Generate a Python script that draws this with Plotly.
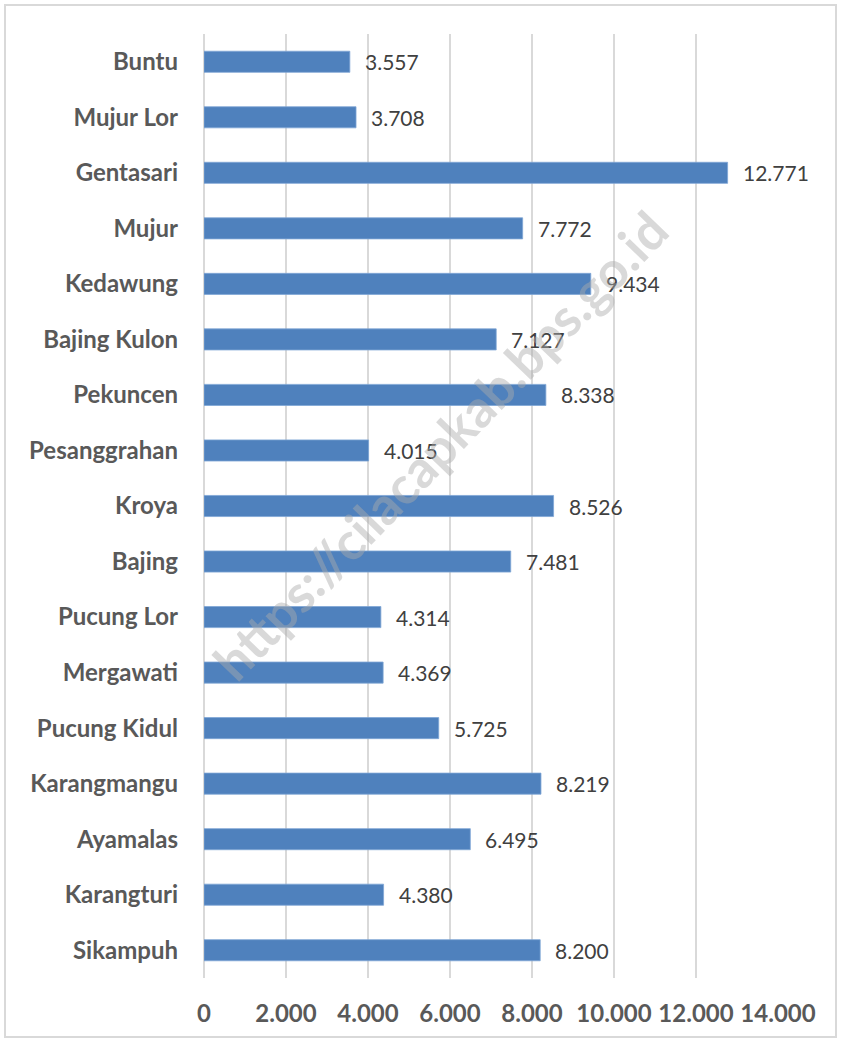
import plotly.graph_objects as go

villages = ["Buntu", "Mujur Lor", "Gentasari", "Mujur", "Kedawung", "Bajing Kulon",
            "Pekuncen", "Pesanggrahan", "Kroya", "Bajing", "Pucung Lor", "Mergawati",
            "Pucung Kidul", "Karangmangu", "Ayamalas", "Karangturi", "Sikampuh"]
population = [3557, 3708, 12771, 7772, 9434, 7127, 8338, 4015, 8526, 7481,
              4314, 4369, 5725, 8219, 6495, 4380, 8200]
x_ticks = [0, 2000, 4000, 6000, 8000, 10000, 12000, 14000]

W, H = 841, 1040
L, R, T, B = 204, 63, 34, 62
FONT = "Lato, 'Open Sans', sans-serif"

fig = go.Figure(go.Bar(
    x=population,
    y=villages,
    orientation="h",
    marker=dict(color="#4F81BD", line=dict(color="#7FA6D6", width=0.8)),
    hoverinfo="skip",
))

def fmt(v):
    return f"{v:,}".replace(",", ".")

for v, name in zip(population, villages):
    fig.add_annotation(
        x=v, y=name, text=fmt(v), showarrow=False,
        xanchor="left", xshift=13,
        font=dict(family=FONT, size=21, color="#404040"),
    )

# pixel -> paper helpers
pw, ph = W - L - R, H - T - B
def px(x):
    return (x - L) / pw
def py(y):
    return (H - B - y) / ph

# watermark
fig.add_annotation(
    x=px(440), y=py(445), xref="paper", yref="paper",
    text="<b>https://cilacapkab.bps.go.id</b>", showarrow=False,
    textangle=-46,
    font=dict(family=FONT, size=52, color="rgba(170,170,170,0.45)"),
)

# chart border
fig.add_shape(
    type="rect", xref="paper", yref="paper",
    x0=px(5), x1=px(836), y0=py(1037), y1=py(5),
    line=dict(color="#D9D9D9", width=2), fillcolor="rgba(0,0,0,0)",
)

fig.update_layout(
    width=W, height=H,
    margin=dict(l=L, r=R, t=T, b=B),
    paper_bgcolor="white", plot_bgcolor="white",
    separators=",.",
    bargap=0.62,
    showlegend=False,
    xaxis=dict(
        range=[0, 14000], tickvals=x_ticks, tickformat=",d",
        showgrid=True, gridcolor="#D9D9D9", gridwidth=1.5,
        zeroline=True, zerolinecolor="#D9D9D9", zerolinewidth=1.5,
        showline=False, ticks="",
        tickfont=dict(family=FONT, size=24, color="#595959", weight="bold"),
        ticklabelstandoff=19,
        fixedrange=True,
    ),
    yaxis=dict(
        autorange="reversed", showgrid=False, showline=False, ticks="",
        tickfont=dict(family=FONT, size=24, color="#595959", weight="bold"),
        ticklabelstandoff=25,
        fixedrange=True,
    ),
)

fig.write_html("out.html", config={"displayModeBar": False},
               post_script="document.body.style.margin='0';")
